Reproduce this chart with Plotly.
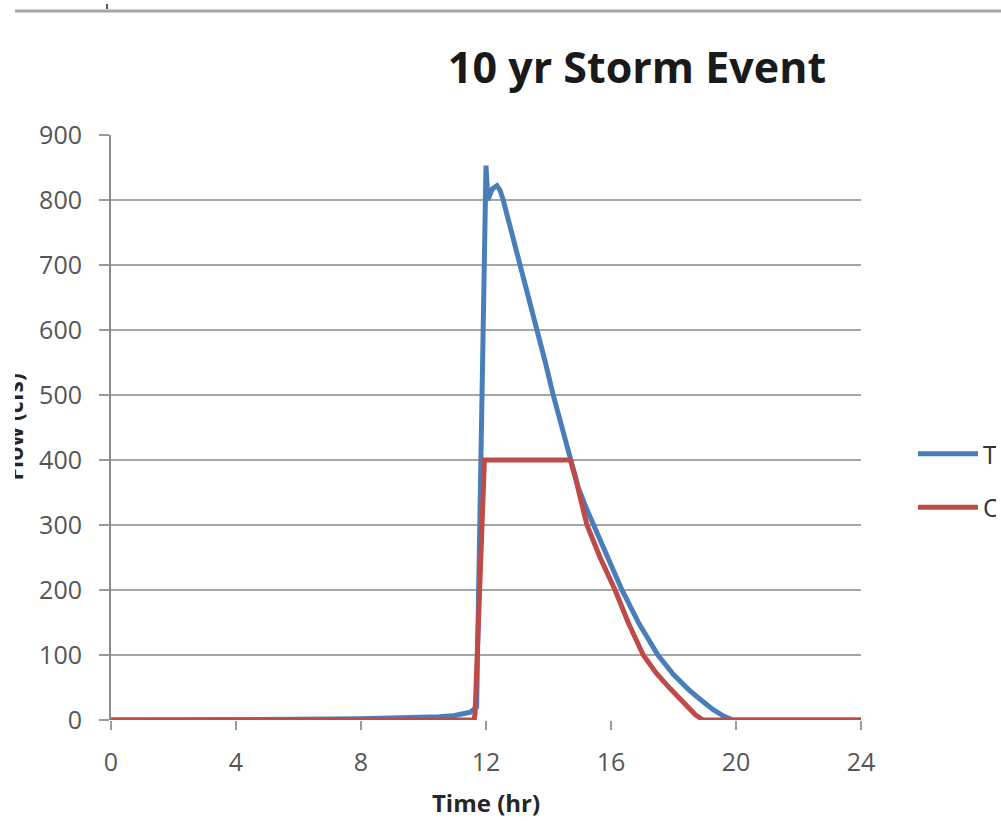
import plotly.graph_objects as go

# ---- data ----
total_t = [0, 2, 4, 6, 8, 9, 10, 10.5, 11, 11.3, 11.5, 11.7, 11.9, 11.98, 12.0, 12.06, 12.12,
           12.2, 12.35, 12.45, 12.55, 12.7, 12.9, 13.09, 13.4, 13.66, 13.9, 14.15, 14.42,
           14.7, 14.95, 15.2, 15.45, 15.9, 16.35, 16.9, 17.5, 18.0, 18.5, 18.9, 19.27,
           19.6, 19.9, 20.5, 24]
total_q = [0, 0, 0.5, 1, 2, 3, 4, 5, 7, 9, 12, 20, 570, 853, 853, 800, 808,
           817, 822, 815, 800, 772, 736, 700, 645, 600, 550, 500, 450,
           400, 358, 327, 300, 250, 200, 148, 100, 70, 46, 30, 16,
           6, 0, 0, 0]
out_t = [0, 11.62, 11.65, 11.83, 11.95, 14.7, 14.85, 15.23, 15.65, 16.13, 16.55, 17.03,
         17.45, 17.9, 18.2, 18.43, 18.7, 18.95, 24]
out_q = [0, 0, 10, 246, 400, 400, 375, 300, 250, 200, 150, 100,
         72, 48, 32, 20, 8, 0, 0]
series_names = ["Total Inflow", "Outflow"]
x_ticks = [0, 4, 8, 12, 16, 20, 24]
y_ticks = [0, 100, 200, 300, 400, 500, 600, 700, 800, 900]

W, H = 1001, 821
L, R, T, B = 111, 140, 135, 101
PW = W - L - R
PH = H - T - B

def px_x(p):
    return (p - L) / PW

def px_y(p):
    return (H - B - p) / PH

FONT = "Open Sans"

fig = go.Figure()
fig.add_trace(go.Scatter(x=total_t, y=total_q, mode="lines", name=series_names[0],
                         line=dict(color="#4a7ebb", width=5), legendgroup="a"))
fig.add_trace(go.Scatter(x=out_t, y=out_q, mode="lines", name=series_names[1],
                         line=dict(color="#be4b48", width=5), legendgroup="b"))

fig.update_layout(
    width=W, height=H,
    margin=dict(l=L, r=R, t=T, b=B, autoexpand=False),
    paper_bgcolor="white", plot_bgcolor="white",
    font=dict(family=FONT, color="#595959"),
    title=dict(text="10 yr Storm Event", x=px_x(637), xref="paper", xanchor="center",
               y=1 - 68 / H, yref="container", yanchor="middle",
               font=dict(family=FONT, size=43, color="#1a1a1a", weight="bold")),
    xaxis=dict(range=[0, 24], tickvals=x_ticks, ticktext=[str(v) for v in x_ticks],
               showgrid=False, zeroline=False, showline=False,
               ticks="outside", ticklen=9, tickwidth=2, tickcolor="#9a9a9a",
               ticklabelstandoff=11,
               tickfont=dict(size=25, color="#555555", family=FONT),
               title=dict(text="Time (hr)", standoff=18,
                          font=dict(size=24, color="#262626", family=FONT, weight="bold"))),
    yaxis=dict(range=[0, 900], tickvals=y_ticks, ticktext=[str(v) for v in y_ticks],
               showgrid=True, gridcolor="#a6a6a6", gridwidth=2,
               zeroline=False, showline=True, linecolor="#8c8c8c", linewidth=2,
               ticks="outside", ticklen=10, tickwidth=2, tickcolor="#9a9a9a",
               ticklabelstandoff=12,
               tickfont=dict(size=25, color="#555555", family=FONT)),
    legend=dict(x=px_x(913), xanchor="left", y=px_y(431), yanchor="top",
                font=dict(size=25, color="#333333", family=FONT),
                bgcolor="rgba(0,0,0,0)", tracegroupgap=18, itemwidth=60),
    showlegend=True,
)

# rotated y-axis title, clipped at the left edge as in the reference
fig.add_annotation(text="Flow (cfs)", textangle=-90, xref="paper", yref="paper",
                   x=px_x(31), xanchor="right", y=0.5, yanchor="middle", showarrow=False,
                   font=dict(size=23, color="#262626", family=FONT, weight="bold"))
fig.add_annotation(text=" ", xref="paper", yref="paper", x=px_x(0), xanchor="left",
                   y=0.5, yanchor="middle", width=15, height=400, bgcolor="white",
                   borderpad=0, borderwidth=0, showarrow=False)
# right edge of the screenshot clips the legend labels
fig.add_annotation(text=" ", xref="paper", yref="paper", x=px_x(1001), xanchor="right",
                   y=px_y(480), yanchor="middle", width=5, height=140, bgcolor="white",
                   borderpad=0, borderwidth=0, showarrow=False)

# thin gray rule at the top of the screenshot
fig.add_shape(type="line", xref="paper", yref="paper", x0=px_x(15), x1=px_x(1001),
              y0=px_y(11), y1=px_y(11), line=dict(color="#a8a8a8", width=3))
fig.add_shape(type="line", xref="paper", yref="paper", x0=px_x(107), x1=px_x(107),
              y0=px_y(4), y1=px_y(9), line=dict(color="#555555", width=2))

fig.write_html("out.html")
